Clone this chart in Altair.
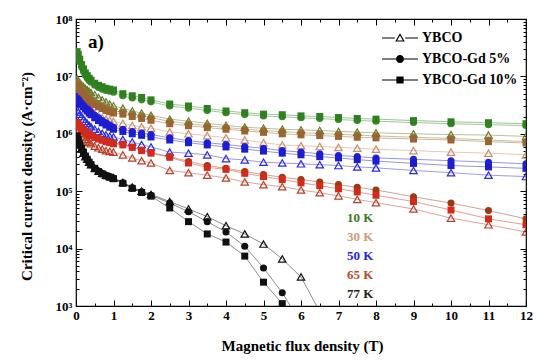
import altair as alt
import pandas as pd

# ---------------- data ----------------
B_FIELD = [0.03, 0.06, 0.1, 0.15, 0.2, 0.25, 0.3, 0.35, 0.4, 0.5, 0.6, 0.7, 0.8, 0.9, 1.0,
           1.25, 1.5, 1.75, 2.0, 2.5, 3.0, 3.5, 4.0, 4.5, 5.0, 5.5, 6.0, 6.5, 7.0, 7.5, 8.0,
           9.0, 10.0, 11.0, 12.0]

TEMPS = ["10 K", "30 K", "50 K", "65 K", "77 K"]
SAMPLES = ["YBCO", "YBCO-Gd 5%", "YBCO-Gd 10%"]

JC_10K_YBCO = [9.0e6, 8.4e6, 7.8e6, 7.1e6, 6.6e6, 6.2e6, 5.8e6, 5.5e6, 5.2e6, 4.8e6, 4.3e6, 3.9e6, 3.6e6, 3.3e6, 3.05e6,
               2.8e6, 2.5e6, 2.3e6, 2.1e6, 1.8e6, 1.66e6, 1.52e6, 1.4e6, 1.3e6, 1.25e6, 1.2e6, 1.17e6, 1.14e6, 1.1e6,
               1.07e6, 1.04e6, 1.0e6, 9.7e5, 9.5e5, 9.0e5]
JC_10K_GD5 = [2.4e7, 2.1e7, 1.8e7, 1.45e7, 1.22e7, 1.05e7, 9.4e6, 8.5e6, 7.9e6, 7.0e6, 6.4e6, 6.0e6, 5.7e6, 5.5e6, 5.3e6,
              4.6e6, 4.2e6, 3.9e6, 3.6e6, 3.05e6, 2.8e6, 2.55e6, 2.32e6, 2.16e6, 2.04e6, 1.98e6, 1.9e6, 1.84e6, 1.77e6,
              1.71e6, 1.66e6, 1.57e6, 1.5e6, 1.44e6, 1.39e6]
JC_10K_GD10 = [2.7e7, 2.4e7, 2.0e7, 1.6e7, 1.35e7, 1.15e7, 1.03e7, 9.3e6, 8.6e6, 7.6e6, 7.0e6, 6.6e6, 6.2e6, 6.0e6, 5.8e6,
               5.0e6, 4.6e6, 4.3e6, 3.9e6, 3.3e6, 3.05e6, 2.76e6, 2.5e6, 2.33e6, 2.2e6, 2.15e6, 2.05e6, 2.0e6, 1.92e6,
               1.85e6, 1.8e6, 1.7e6, 1.62e6, 1.56e6, 1.5e6]
JC_30K_YBCO = [5.5e6, 5.0e6, 4.5e6, 4.0e6, 3.6e6, 3.3e6, 3.0e6, 2.8e6, 2.6e6, 2.25e6, 2.05e6, 1.9e6, 1.8e6, 1.72e6, 1.65e6,
               1.52e6, 1.4e6, 1.32e6, 1.25e6, 1.08e6, 1.0e6, 9.3e5, 8.5e5, 7.8e5, 7.0e5, 6.4e5, 6.2e5, 6.0e5, 5.8e5,
               5.6e5, 5.4e5, 5.1e5, 4.8e5, 4.6e5, 4.3e5]
JC_30K_GD5 = [8.0e6, 7.4e6, 6.8e6, 6.1e6, 5.6e6, 5.1e6, 4.7e6, 4.3e6, 4.0e6, 3.6e6, 3.3e6, 3.0e6, 2.8e6, 2.65e6, 2.5e6,
              2.4e6, 2.2e6, 2.05e6, 1.9e6, 1.65e6, 1.5e6, 1.38e6, 1.29e6, 1.2e6, 1.14e6, 1.09e6, 1.05e6, 1.01e6, 9.8e5,
              9.5e5, 9.2e5, 8.7e5, 8.3e5, 7.8e5, 7.3e5]
JC_30K_GD10 = [7.2e6, 6.6e6, 6.0e6, 5.4e6, 4.9e6, 4.5e6, 4.1e6, 3.8e6, 3.5e6, 3.2e6, 2.95e6, 2.75e6, 2.55e6, 2.42e6, 2.3e6,
               2.2e6, 2.0e6, 1.85e6, 1.72e6, 1.5e6, 1.38e6, 1.28e6, 1.2e6, 1.12e6, 1.06e6, 1.0e6, 9.6e5, 9.3e5, 9.0e5,
               8.7e5, 8.5e5, 8.1e5, 7.8e5, 7.3e5, 6.9e5]
JC_50K_YBCO = [2.6e6, 2.4e6, 2.2e6, 2.0e6, 1.8e6, 1.65e6, 1.52e6, 1.42e6, 1.33e6, 1.2e6, 1.1e6, 1.02e6, 9.6e5, 9.1e5, 8.8e5,
               8.0e5, 7.2e5, 6.5e5, 5.9e5, 4.8e5, 4.6e5, 4.3e5, 3.7e5, 3.5e5, 3.2e5, 3.1e5, 3.0e5, 2.9e5, 2.8e5,
               2.65e5, 2.55e5, 2.3e5, 2.1e5, 1.9e5, 1.8e5]
JC_50K_GD5 = [4.5e6, 4.2e6, 3.9e6, 3.6e6, 3.3e6, 3.0e6, 2.8e6, 2.6e6, 2.4e6, 2.1e6, 1.9e6, 1.7e6, 1.55e6, 1.42e6, 1.3e6,
              1.2e6, 1.1e6, 1.03e6, 9.7e5, 8.5e5, 7.6e5, 7.0e5, 6.5e5, 6.0e5, 5.6e5, 5.1e5, 4.8e5, 4.5e5, 4.2e5,
              4.0e5, 3.8e5, 3.6e5, 3.4e5, 3.2e5, 3.0e5]
JC_50K_GD10 = [4.0e6, 3.8e6, 3.5e6, 3.2e6, 2.95e6, 2.7e6, 2.5e6, 2.3e6, 2.15e6, 1.9e6, 1.7e6, 1.55e6, 1.42e6, 1.3e6, 1.2e6,
               1.1e6, 1.0e6, 9.4e5, 8.8e5, 7.8e5, 7.0e5, 6.4e5, 5.9e5, 5.4e5, 5.0e5, 4.6e5, 4.3e5, 4.0e5, 3.8e5,
               3.55e5, 3.35e5, 3.05e5, 2.8e5, 2.65e5, 2.5e5]
JC_65K_YBCO = [1.2e6, 1.1e6, 1.0e6, 9.2e5, 8.6e5, 8.0e5, 7.5e5, 7.1e5, 6.7e5, 6.1e5, 5.7e5, 5.4e5, 5.1e5, 4.95e5, 4.8e5,
               4.3e5, 3.8e5, 3.4e5, 3.1e5, 2.3e5, 2.1e5, 1.9e5, 1.7e5, 1.45e5, 1.3e5, 1.2e5, 1.05e5, 9.4e4, 8.3e4,
               7.2e4, 6.3e4, 4.9e4, 3.4e4, 2.6e4, 1.95e4]
JC_65K_GD5 = [1.6e6, 1.5e6, 1.4e6, 1.3e6, 1.2e6, 1.12e6, 1.05e6, 1.0e6, 9.5e5, 8.8e5, 8.3e5, 7.9e5, 7.5e5, 7.2e5, 6.9e5,
              6.6e5, 5.9e5, 5.2e5, 4.7e5, 4.0e5, 3.3e5, 2.8e5, 2.5e5, 2.2e5, 1.95e5, 1.75e5, 1.6e5, 1.45e5, 1.3e5,
              1.17e5, 1.05e5, 8.0e4, 6.2e4, 4.6e4, 3.3e4]
JC_65K_GD10 = [1.5e6, 1.42e6, 1.33e6, 1.24e6, 1.15e6, 1.08e6, 1.02e6, 9.7e5, 9.2e5, 8.6e5, 8.1e5, 7.7e5, 7.3e5, 7.0e5, 6.7e5,
               6.4e5, 5.8e5, 5.1e5, 4.6e5, 3.9e5, 3.1e5, 2.6e5, 2.4e5, 2.05e5, 1.8e5, 1.6e5, 1.4e5, 1.25e5, 1.1e5,
               9.7e4, 8.5e4, 6.6e4, 4.7e4, 3.3e4, 2.6e4]
JC_77K_YBCO = [8.5e5, 7.5e5, 6.4e5, 5.4e5, 4.6e5, 4.0e5, 3.6e5, 3.2e5, 2.9e5, 2.5e5, 2.25e5, 2.05e5, 1.9e5, 1.8e5, 1.7e5,
               1.42e5, 1.18e5, 1.0e5, 8.8e4, 6.6e4, 4.9e4, 3.6e4, 2.5e4, 1.8e4, 1.2e4, 6.6e3, 3.2e3, 8.0e2]
JC_77K_GD5 = [8.8e5, 7.7e5, 6.5e5, 5.5e5, 4.7e5, 4.1e5, 3.6e5, 3.2e5, 2.9e5, 2.5e5, 2.25e5, 2.05e5, 1.9e5, 1.8e5, 1.7e5,
              1.4e5, 1.15e5, 9.8e4, 8.5e4, 6.2e4, 4.4e4, 2.95e4, 1.95e4, 1.1e4, 4.6e3, 1.7e3, 5.0e2]
JC_77K_GD10 = [9.2e5, 8.0e5, 6.7e5, 5.6e5, 4.8e5, 4.1e5, 3.6e5, 3.2e5, 2.9e5, 2.5e5, 2.2e5, 2.0e5, 1.85e5, 1.75e5, 1.65e5,
               1.37e5, 1.12e5, 9.5e4, 8.2e4, 5.1e4, 2.95e4, 1.8e4, 1.3e4, 7.4e3, 2.6e3, 1.1e3, 4.0e2]

SERIES = [
    ("10 K", "YBCO", JC_10K_YBCO), ("10 K", "YBCO-Gd 5%", JC_10K_GD5), ("10 K", "YBCO-Gd 10%", JC_10K_GD10),
    ("30 K", "YBCO", JC_30K_YBCO), ("30 K", "YBCO-Gd 5%", JC_30K_GD5), ("30 K", "YBCO-Gd 10%", JC_30K_GD10),
    ("50 K", "YBCO", JC_50K_YBCO), ("50 K", "YBCO-Gd 5%", JC_50K_GD5), ("50 K", "YBCO-Gd 10%", JC_50K_GD10),
    ("65 K", "YBCO", JC_65K_YBCO), ("65 K", "YBCO-Gd 5%", JC_65K_GD5), ("65 K", "YBCO-Gd 10%", JC_65K_GD10),
    ("77 K", "YBCO", JC_77K_YBCO), ("77 K", "YBCO-Gd 5%", JC_77K_GD5), ("77 K", "YBCO-Gd 10%", JC_77K_GD10),
]

# ---------------- styles ----------------
SERIES_COLORS = ["#6b7a2c", "#3a8a26", "#2f801f",
                 "#c98e6e", "#8a7a34", "#9a6532",
                 "#2b2bdf", "#2020d8", "#1c1cd0",
                 "#b8402a", "#9b3a12", "#d42a1c",
                 "#111111", "#111111", "#111111"]
TEMP_COLORS = ["#3d7a22", "#d09a7a", "#2424e0", "#b84a2a", "#222222"]
FONT = "Liberation Serif"

rows = []
for temp, sample, vals in SERIES:
    for b, v in zip(B_FIELD, vals):
        rows.append({"B": b, "Jc": v, "Temp": temp, "Sample": sample, "Series": temp + " " + sample})
df = pd.DataFrame(rows)
series_names = [t + " " + s for t, s, _ in SERIES]

x_scale = alt.Scale(domain=[0, 12], nice=False, zero=False)
y_scale = alt.Scale(type="log", domain=[1e3, 1e8], nice=False)
color_scale = alt.Scale(domain=series_names, range=SERIES_COLORS)

X_MAJOR = list(range(13))
X_MINOR = [i + 0.5 for i in range(12)]
Y_MAJOR = [10.0 ** d for d in range(3, 9)]
Y_MINOR = [k * 10.0 ** d for d in range(3, 8) for k in range(2, 10)]


def tick_axis(orient, values, size):
    return alt.Axis(orient=orient, values=values, tickSize=alt.ExprRef(expr=str(-size)),
                    labels=False, domain=False, grid=False, title=None,
                    tickColor="black", tickWidth=1)


x_main = alt.Axis(orient="bottom", values=X_MAJOR, title="Magnetic flux density (T)",
                  tickSize=alt.ExprRef(expr="-6"), tickColor="black", tickWidth=1,
                  labelPadding=9, domain=False, grid=False, labelFlush=False,
                  labelFont=FONT, labelFontSize=13, labelFontWeight="bold", labelColor="black",
                  titleFont=FONT, titleFontSize=15, titleFontWeight="bold", titleColor="black",
                  titleX=226, titleY=44, titleBaseline="alphabetic")
y_main = alt.Axis(orient="left", values=Y_MAJOR, title="Critical current density (A·cm⁻²)",
                  labelExpr="'10' + ['⁰','¹','²','³','⁴','⁵','⁶','⁷','⁸','⁹'][round(log(datum.value)/LN10)]",
                  tickSize=alt.ExprRef(expr="-6"), tickColor="black", tickWidth=1,
                  labelPadding=10, domain=False, grid=False, labelFlush=False,
                  labelFont=FONT, labelFontSize=13, labelFontWeight="bold", labelColor="black",
                  titleFont=FONT, titleFontSize=15, titleFontWeight="bold", titleColor="black",
                  titleAngle=270, titleX=-45, titleY=157, titleBaseline="alphabetic")

base = alt.Chart(df)

lines = base.mark_line(strokeWidth=0.8, strokeOpacity=0.6, clip=True).encode(
    x=alt.X("B:Q", scale=x_scale, axis=x_main),
    y=alt.Y("Jc:Q", scale=y_scale, axis=y_main),
    color=alt.Color("Series:N", scale=color_scale, legend=None),
    detail="Series:N",
    order="B:Q",
)


def marker_layer(sample, shape, filled, size):
    return base.transform_filter(alt.datum.Sample == sample).mark_point(
        shape=shape, filled=filled, size=size, strokeWidth=1.2, opacity=1, clip=True
    ).encode(
        x=alt.X("B:Q", scale=x_scale, axis=None),
        y=alt.Y("Jc:Q", scale=y_scale, axis=None),
        color=alt.Color("Series:N", scale=color_scale, legend=None),
    )


tri = marker_layer("YBCO", "triangle-up", False, 55)
circ = marker_layer("YBCO-Gd 5%", "circle", True, 50)
sq = marker_layer("YBCO-Gd 10%", "square", True, 49)


def ticks_layer(xo, xv, xs, yo, yv, ys):
    return base.mark_point(opacity=0).encode(
        x=alt.X("B:Q", scale=x_scale, axis=tick_axis(xo, xv, xs)),
        y=alt.Y("Jc:Q", scale=y_scale, axis=tick_axis(yo, yv, ys)),
    )


t2 = ticks_layer("bottom", X_MINOR, 3, "left", Y_MINOR, 3)
t3 = ticks_layer("top", X_MAJOR, 6, "right", Y_MAJOR, 6)
t4 = ticks_layer("top", X_MINOR, 3, "right", Y_MINOR, 3)

# legend symbols: line segments + marker (unit coordinates, scaled by the symbol size)
LEGEND_PATHS = [
    "M-4.5,-0.12H-1.3V0.12H-4.5Z M1.3,-0.12H4.5V0.12H1.3Z M0,-1.2L1.2,0.9H-1.2Z M0,-0.64L-0.72,0.62H0.72Z",
    "M-4.5,-0.12H-1V0.12H-4.5Z M1,-0.12H4.5V0.12H1Z M1,0A1,1,0,1,1,-1,0A1,1,0,1,1,1,0Z",
    "M-4.5,-0.12H-0.9V0.12H-4.5Z M0.9,-0.12H4.5V0.12H0.9Z M-0.9,-0.9H0.9V0.9H-0.9Z",
]
legend_df = pd.DataFrame({"Sample": SAMPLES})
legend_layer = alt.Chart(legend_df).mark_point(filled=True, opacity=0, color="black").encode(
    shape=alt.Shape("Sample:N", scale=alt.Scale(domain=SAMPLES, range=LEGEND_PATHS),
                    legend=alt.Legend(title=None, orient="none", legendX=317, legendY=12,
                                      symbolSize=64, symbolFillColor="black",
                                      symbolStrokeColor="black", symbolStrokeWidth=0,
                                      symbolOpacity=1, labelFont=FONT, labelFontSize=14,
                                      labelFontWeight="bold", labelColor="black",
                                      labelOffset=15, rowPadding=7, padding=0))
)

texts = []
for i, (t, c) in enumerate(zip(TEMPS, TEMP_COLORS)):
    texts.append(
        alt.Chart(pd.DataFrame({"label": [t]})).mark_text(
            align="left", baseline="middle", font=FONT, fontSize=13, fontWeight="bold", color=c
        ).encode(x=alt.value(271), y=alt.value(199 + i * 19), text="label:N")
    )
panel = alt.Chart(pd.DataFrame({"label": ["a)"]})).mark_text(
    align="left", baseline="middle", font=FONT, fontSize=19, fontWeight="bold", color="black"
).encode(x=alt.value(12), y=alt.value(23), text="label:N")

chart = alt.layer(lines, tri, circ, sq, t2, t3, t4, legend_layer, panel, *texts).resolve_axis(
    x="independent", y="independent"
).properties(
    width=450, height=287,
    autosize=alt.AutoSizeParams(type="none"),
    padding={"left": 68, "top": 11, "right": 16, "bottom": 50},
).configure_view(stroke="black", strokeWidth=1.2)

chart.save("out.html", embed_options={"renderer": "svg", "actions": False})
